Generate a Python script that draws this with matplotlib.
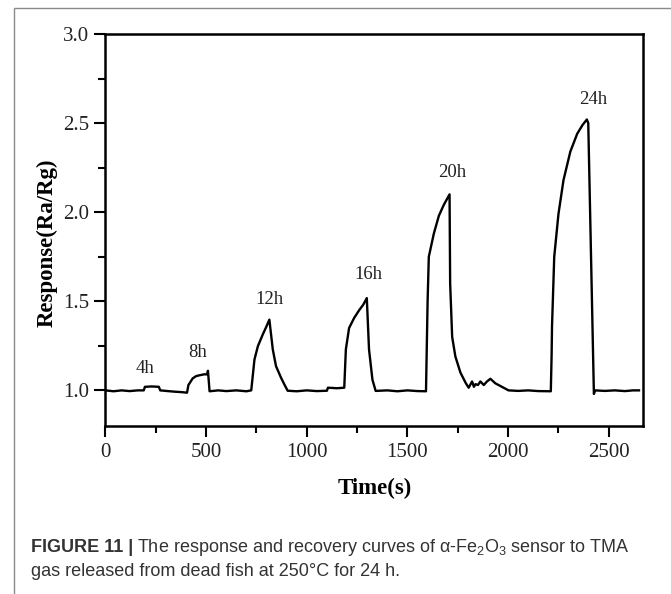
import matplotlib.pyplot as plt
from matplotlib.patches import Rectangle
from matplotlib.ticker import MultipleLocator

# Sensor response
time_s = [0, 40, 80, 120, 160, 190, 196, 230, 265, 272, 300, 340, 380, 405,
          412, 433, 450, 468, 490, 505, 509, 517, 560, 600, 650, 700, 724,
          740, 757, 781, 800, 814, 831, 847, 872, 890, 905, 950, 1000, 1050,
          1100, 1105, 1150, 1186, 1194, 1210, 1235, 1260, 1280, 1298, 1309,
          1326, 1342, 1400, 1450, 1500, 1550, 1592, 1600, 1606, 1631, 1656,
          1680, 1709, 1712, 1722, 1738, 1763, 1790, 1804, 1821, 1830, 1838,
          1850, 1862, 1879, 1895, 1912, 1936, 1969, 2002, 2050, 2100, 2150,
          2212, 2216, 2218, 2229, 2250, 2275, 2309, 2343, 2370, 2391, 2398,
          2426, 2432, 2480, 2530, 2580, 2620, 2650]
response = [1.0, 0.995, 1.0, 0.996, 1.0, 1.0, 1.02, 1.022, 1.02, 1.0, 0.997,
            0.993, 0.99, 0.987, 1.03, 1.067, 1.08, 1.085, 1.09, 1.09, 1.11,
            0.995, 1.0, 0.996, 1.0, 0.995, 1.0, 1.173, 1.248, 1.313, 1.36,
            1.397, 1.23, 1.136, 1.071, 1.03, 0.998, 0.995, 1.0, 0.996, 0.998,
            1.015, 1.012, 1.015, 1.23, 1.35, 1.406, 1.45, 1.48, 1.518, 1.23,
            1.06, 0.997, 1.0, 0.995, 1.0, 0.996, 0.995, 1.5, 1.75, 1.88, 1.98,
            2.04, 2.10, 1.60, 1.30, 1.19, 1.10, 1.04, 1.015, 1.05, 1.02, 1.035,
            1.03, 1.05, 1.03, 1.05, 1.065, 1.04, 1.02, 1.0, 0.997, 1.0, 0.996,
            0.995, 1.2, 1.36, 1.75, 1.99, 2.18, 2.34, 2.44, 2.49, 2.52, 2.5,
            0.98, 1.0, 0.997, 1.0, 0.996, 1.0, 1.0]

# labels above each exposure peak
peak_labels = ['4h', '8h', '12h', '16h', '20h', '24h']
label_x = [196, 458, 814, 1304, 1720, 2423]
label_y = [1.12, 1.21, 1.51, 1.65, 2.22, 2.63]

plt.rcParams['font.family'] = ['Liberation Serif', 'DejaVu Serif']

fig = plt.figure(figsize=(6.71, 5.94), dpi=100)
ax = fig.add_axes([0.1572, 0.2828, 0.8011, 0.66])

ax.plot(time_s, response, color='black', lw=1.7)
for lab, x, y in zip(peak_labels, label_x, label_y):
    ax.text(x, y, lab, ha='center', va='center', fontsize=13.5, color='#222222')

ax.set_xlim(0, 2670)
ax.set_ylim(0.8, 3.0)
ax.xaxis.set_major_locator(MultipleLocator(500))
ax.xaxis.set_minor_locator(MultipleLocator(250))
ax.yaxis.set_major_locator(MultipleLocator(0.5))
ax.yaxis.set_minor_locator(MultipleLocator(0.25))
ax.set_yticks([1.0, 1.5, 2.0, 2.5, 3.0])
ax.tick_params(which='major', direction='out', length=8, width=1.5,
               labelsize=15, pad=4, colors='black')
ax.tick_params(which='minor', direction='out', length=5, width=1.5)
for lab in ax.get_xticklabels() + ax.get_yticklabels():
    lab.set_color('#222222')
for sp in ax.spines.values():
    sp.set_linewidth(1.8)

ax.set_xlabel('Time(s)', fontsize=16.5, fontweight='bold')
ax.set_ylabel('Response(Ra/Rg)', fontsize=16.5, fontweight='bold')
ax.xaxis.set_label_coords(0.5, -0.158)
ax.yaxis.set_label_coords(-0.109, 0.467)
ax.xaxis.label.set_va('center')
ax.yaxis.label.set_va('center')

# outer panel frame, cut off at right and bottom
fig.add_artist(Rectangle((14 / 671, -0.05), 1.1, 1 - 8 / 594 + 0.05,
                         transform=fig.transFigure, fill=False,
                         edgecolor='#8a8a8a', lw=1.0))

# caption: bold figure number, then the rest placed right after it
cap_font = ['Liberation Sans', 'DejaVu Sans']
cap_size = 13
head = fig.text(31 / 671, 1 - 547 / 594, 'FIGURE 11 |', family=cap_font,
                fontweight='bold', fontsize=cap_size, color='#333333',
                va='center')
fig.canvas.draw()
head_end = head.get_window_extent().x1 + 4
fig.text(head_end / fig.bbox.width, 1 - 547 / 594,
         'The response and recovery curves of \u03b1-Fe$\\mathregular{_2}$O$\\mathregular{_3}$ sensor to TMA',
         family=cap_font, fontsize=cap_size, color='#333333', va='center')
fig.text(31 / 671, 1 - 572 / 594,
         'gas released from dead fish at 250\u00b0C for 24 h.',
         family=cap_font, fontsize=cap_size, color='#333333', va='center')

fig.savefig('out.png', dpi=100)
